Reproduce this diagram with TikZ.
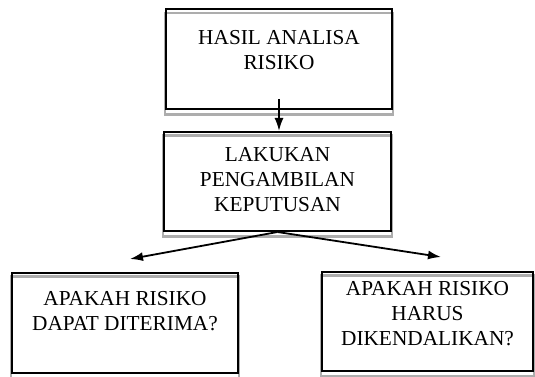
\documentclass[tikz,border=0pt]{standalone}
\usepackage{fontspec}
\setmainfont{Liberation Serif}
\usetikzlibrary{arrows.meta,backgrounds}
\tikzset{>={Latex[length=13pt,width=9pt]}}
\tikzset{
  kotak/.style={draw, line width=2pt, inner sep=0pt},
  bayang/.style={draw=black!32, line width=2.2pt},
  panah/.style={->, line width=1.8pt}
}
% box text: width, height, top gap, lines
\newcommand{\isikotak}[4]{\parbox[c][#2][t]{#1}{\centering\vspace*{#3}#4}}

\begin{document}
\begin{tikzpicture}[x=1pt, y=-1pt, font=\fontsize{21.3}{25}\selectfont]
    \useasboundingbox (0, 0) rectangle (535, 377);
    \node[kotak] (hasil) at (279, 59.25) {\isikotak{226pt}{99.5pt}{21pt}{HASIL ANALISA\\RISIKO}};
    \node[kotak] (lakukan) at (277.5, 181.5) {\isikotak{227pt}{99pt}{15.5pt}{LAKUKAN\\PENGAMBILAN\\KEPUTUSAN}};
    \node[kotak] (terima) at (125, 323) {\isikotak{226pt}{100pt}{18.5pt}{APAKAH RISIKO\\DAPAT DITERIMA?}};
    \node[kotak] (kendali) at (427.5, 321.5) {\isikotak{211pt}{99pt}{9.5pt}{APAKAH RISIKO\\HARUS\\DIKENDALIKAN?}};
    \begin{pgfonlayer}{background}
      \foreach \n in {hasil, lakukan, terima, kendali}
        \draw[bayang] ([yshift=-4.5pt]\n.south west) rectangle ([yshift=-4.5pt]\n.north east);
    \end{pgfonlayer}
    \coordinate (kiri) at (130, 259);
    \coordinate (kanan) at (441, 257);
    \draw[panah] ([yshift=11pt]hasil.south) -- (hasil.south |- lakukan.north);
    \draw[panah] (lakukan.south) -- (kiri);
    \draw[panah] (lakukan.south) -- (kanan);
\end{tikzpicture}
\end{document}
